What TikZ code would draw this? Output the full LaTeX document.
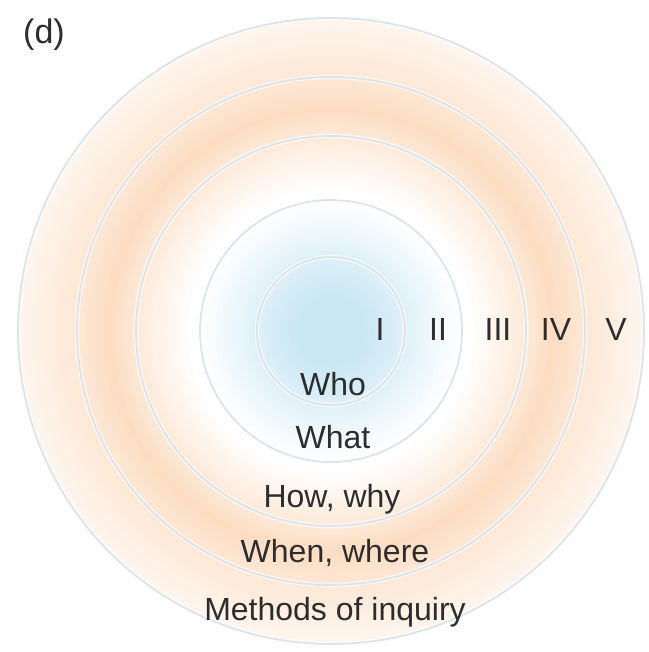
\documentclass[tikz,border=0pt]{standalone}
\usepackage{fontspec}
\setmainfont{Liberation Sans}
\definecolor{ringline}{RGB}{218,228,234}
\definecolor{txt}{RGB}{45,45,45}
\definecolor{orpeak}{RGB}{252,221,194}
\definecolor{blpeak}{RGB}{202,231,244}
\tikzset{
  ring/.style={draw=ringline, line width=0.85pt},
  halo/.style={draw=white, line width=2.4pt, opacity=0.55},
  lbl/.style={text=txt, font=\fontsize{16pt}{19pt}\selectfont, anchor=base, inner sep=0pt},
}
\begin{document}
\begin{tikzpicture}[x=0.5pt,y=-0.5pt]
\useasboundingbox[fill=white] (0,0) rectangle (648,652);
\coordinate (c) at (331,331);
% orange field (concentric discs, outer to inner)
\foreach \r in {314,312,...,132}{
  \pgfmathsetmacro\o{\r<142 ? 0 : (\r<200 ? (\r-142)/58*68 : (\r<222 ? 68+(\r-200)/22*32 : (\r<250 ? 100-(\r-222)/28*28 : 72-(\r-250)/64*46)))}
  \pgfmathsetmacro\rr{\r*0.5}
  \fill[orpeak!\o!white] (c) circle[radius=\rr pt];
}
% blue core
\foreach \r in {131,129,...,1}{
  \pgfmathsetmacro\b{\r<35 ? 100 : (\r<74 ? 100-(\r-35)/39*38 : 62-(\r-74)/57*62)}
  \pgfmathsetmacro\rr{\r*0.5}
  \fill[blpeak!\b!white] (c) circle[radius=\rr pt];
}
% rings
\foreach \r in {37,65.5,97.5,127,156.5}{
  \draw[halo] (c) circle[radius=\r pt];
  \draw[ring] (c) circle[radius=\r pt];
}
% labels
\node[lbl, font=\fontsize{17pt}{20pt}\selectfont] (d) at (44,44) {(d)};
\node[lbl] (n1) at (380,340) {I};
\node[lbl] (n2) at (438,340) {II};
\node[lbl] (n3) at (498,340) {III};
\node[lbl] (n4) at (556,340) {IV};
\node[lbl] (n5) at (616,340) {V};
\node[lbl] (who) at (333,395) {Who};
\node[lbl] (what) at (333,448) {What};
\node[lbl] (how) at (332,507) {How, why};
\node[lbl] (when) at (335,562) {When, where};
\node[lbl] (meth) at (335,620) {Methods of inquiry};
\end{tikzpicture}
\end{document}
